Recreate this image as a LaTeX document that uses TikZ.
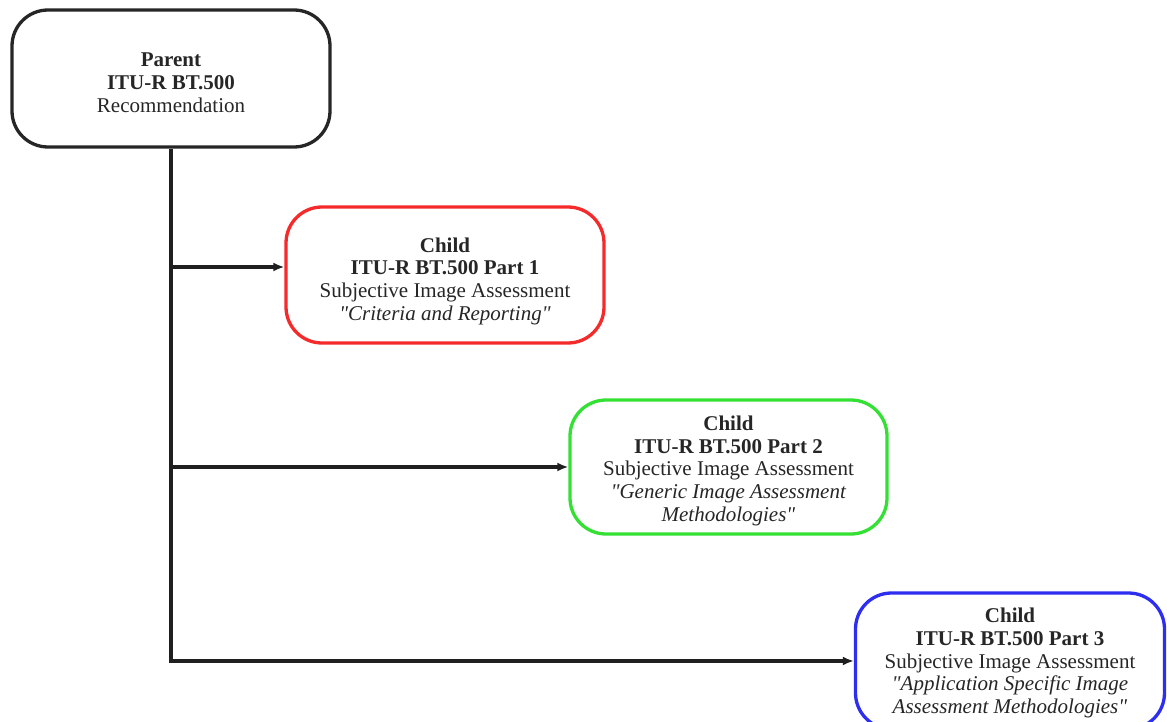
\documentclass[tikz,border=0pt]{standalone}
\usepackage{fontspec}
\setmainfont{Liberation Serif}[Ligatures=TeXOff]
\usetikzlibrary{arrows.meta}
\definecolor{redc}{HTML}{F52A2A}
\definecolor{greenc}{HTML}{33E033}
\definecolor{bluec}{HTML}{2E2EF0}
\definecolor{txt}{HTML}{262626}
\tikzset{
  box/.style={draw, line width=3.3pt, rounded corners=36pt, align=center,
    font=\fontsize{21}{22.7}\selectfont, text=txt, fill=white, inner sep=0pt},
  conn/.style={line width=3.4pt, draw=black!88},
  arr/.style={conn, -{Latex[length=11pt,width=9pt]}}
}
\begin{document}
\begin{tikzpicture}[x=1pt,y=-1pt]
\useasboundingbox (0,0) rectangle (1167,722);
\begin{scope}
\clip (0,0) rectangle (1167,722);
\node[box, draw=black!85, minimum width=318pt, minimum height=137pt] (parent) at (171,78.5)
  {\rule{0pt}{22pt}\textbf{Parent}\\ \textbf{ITU-R BT.500}\\ Recommendation};
\node[box, draw=redc, minimum width=318pt, minimum height=136pt] (c1) at (445,275)
  {\rule{0pt}{27pt}\textbf{Child}\\ \textbf{ITU-R BT.500 Part 1}\\ Subjective Image Assessment\\ \textit{"Criteria and Reporting"}};
\node[box, draw=greenc, minimum width=317pt, minimum height=134pt] (c2) at (728.5,467)
  {\rule{0pt}{22pt}\textbf{Child}\\ \textbf{ITU-R BT.500 Part 2}\\ Subjective Image Assessment\\ \textit{"Generic Image Assessment}\\ \textit{Methodologies"}};
\node[box, draw=bluec, minimum width=309pt, minimum height=136pt] (c3) at (1010,661)
  {\rule{0pt}{19pt}\textbf{Child}\\ \textbf{ITU-R BT.500 Part 3}\\ Subjective Image Assessment\\ \textit{"Application Specific Image}\\ \textit{Assessment Methodologies"}};
\coordinate (j1) at (parent.south |- 0,267);
\coordinate (j2) at (parent.south |- c2.west);
\draw[arr] (parent.south) |- (c3.west);
\draw[arr] (j1) -- (c1.west |- j1);
\draw[arr] (j2) -- (c2.west);
\end{scope}
\end{tikzpicture}
\end{document}
